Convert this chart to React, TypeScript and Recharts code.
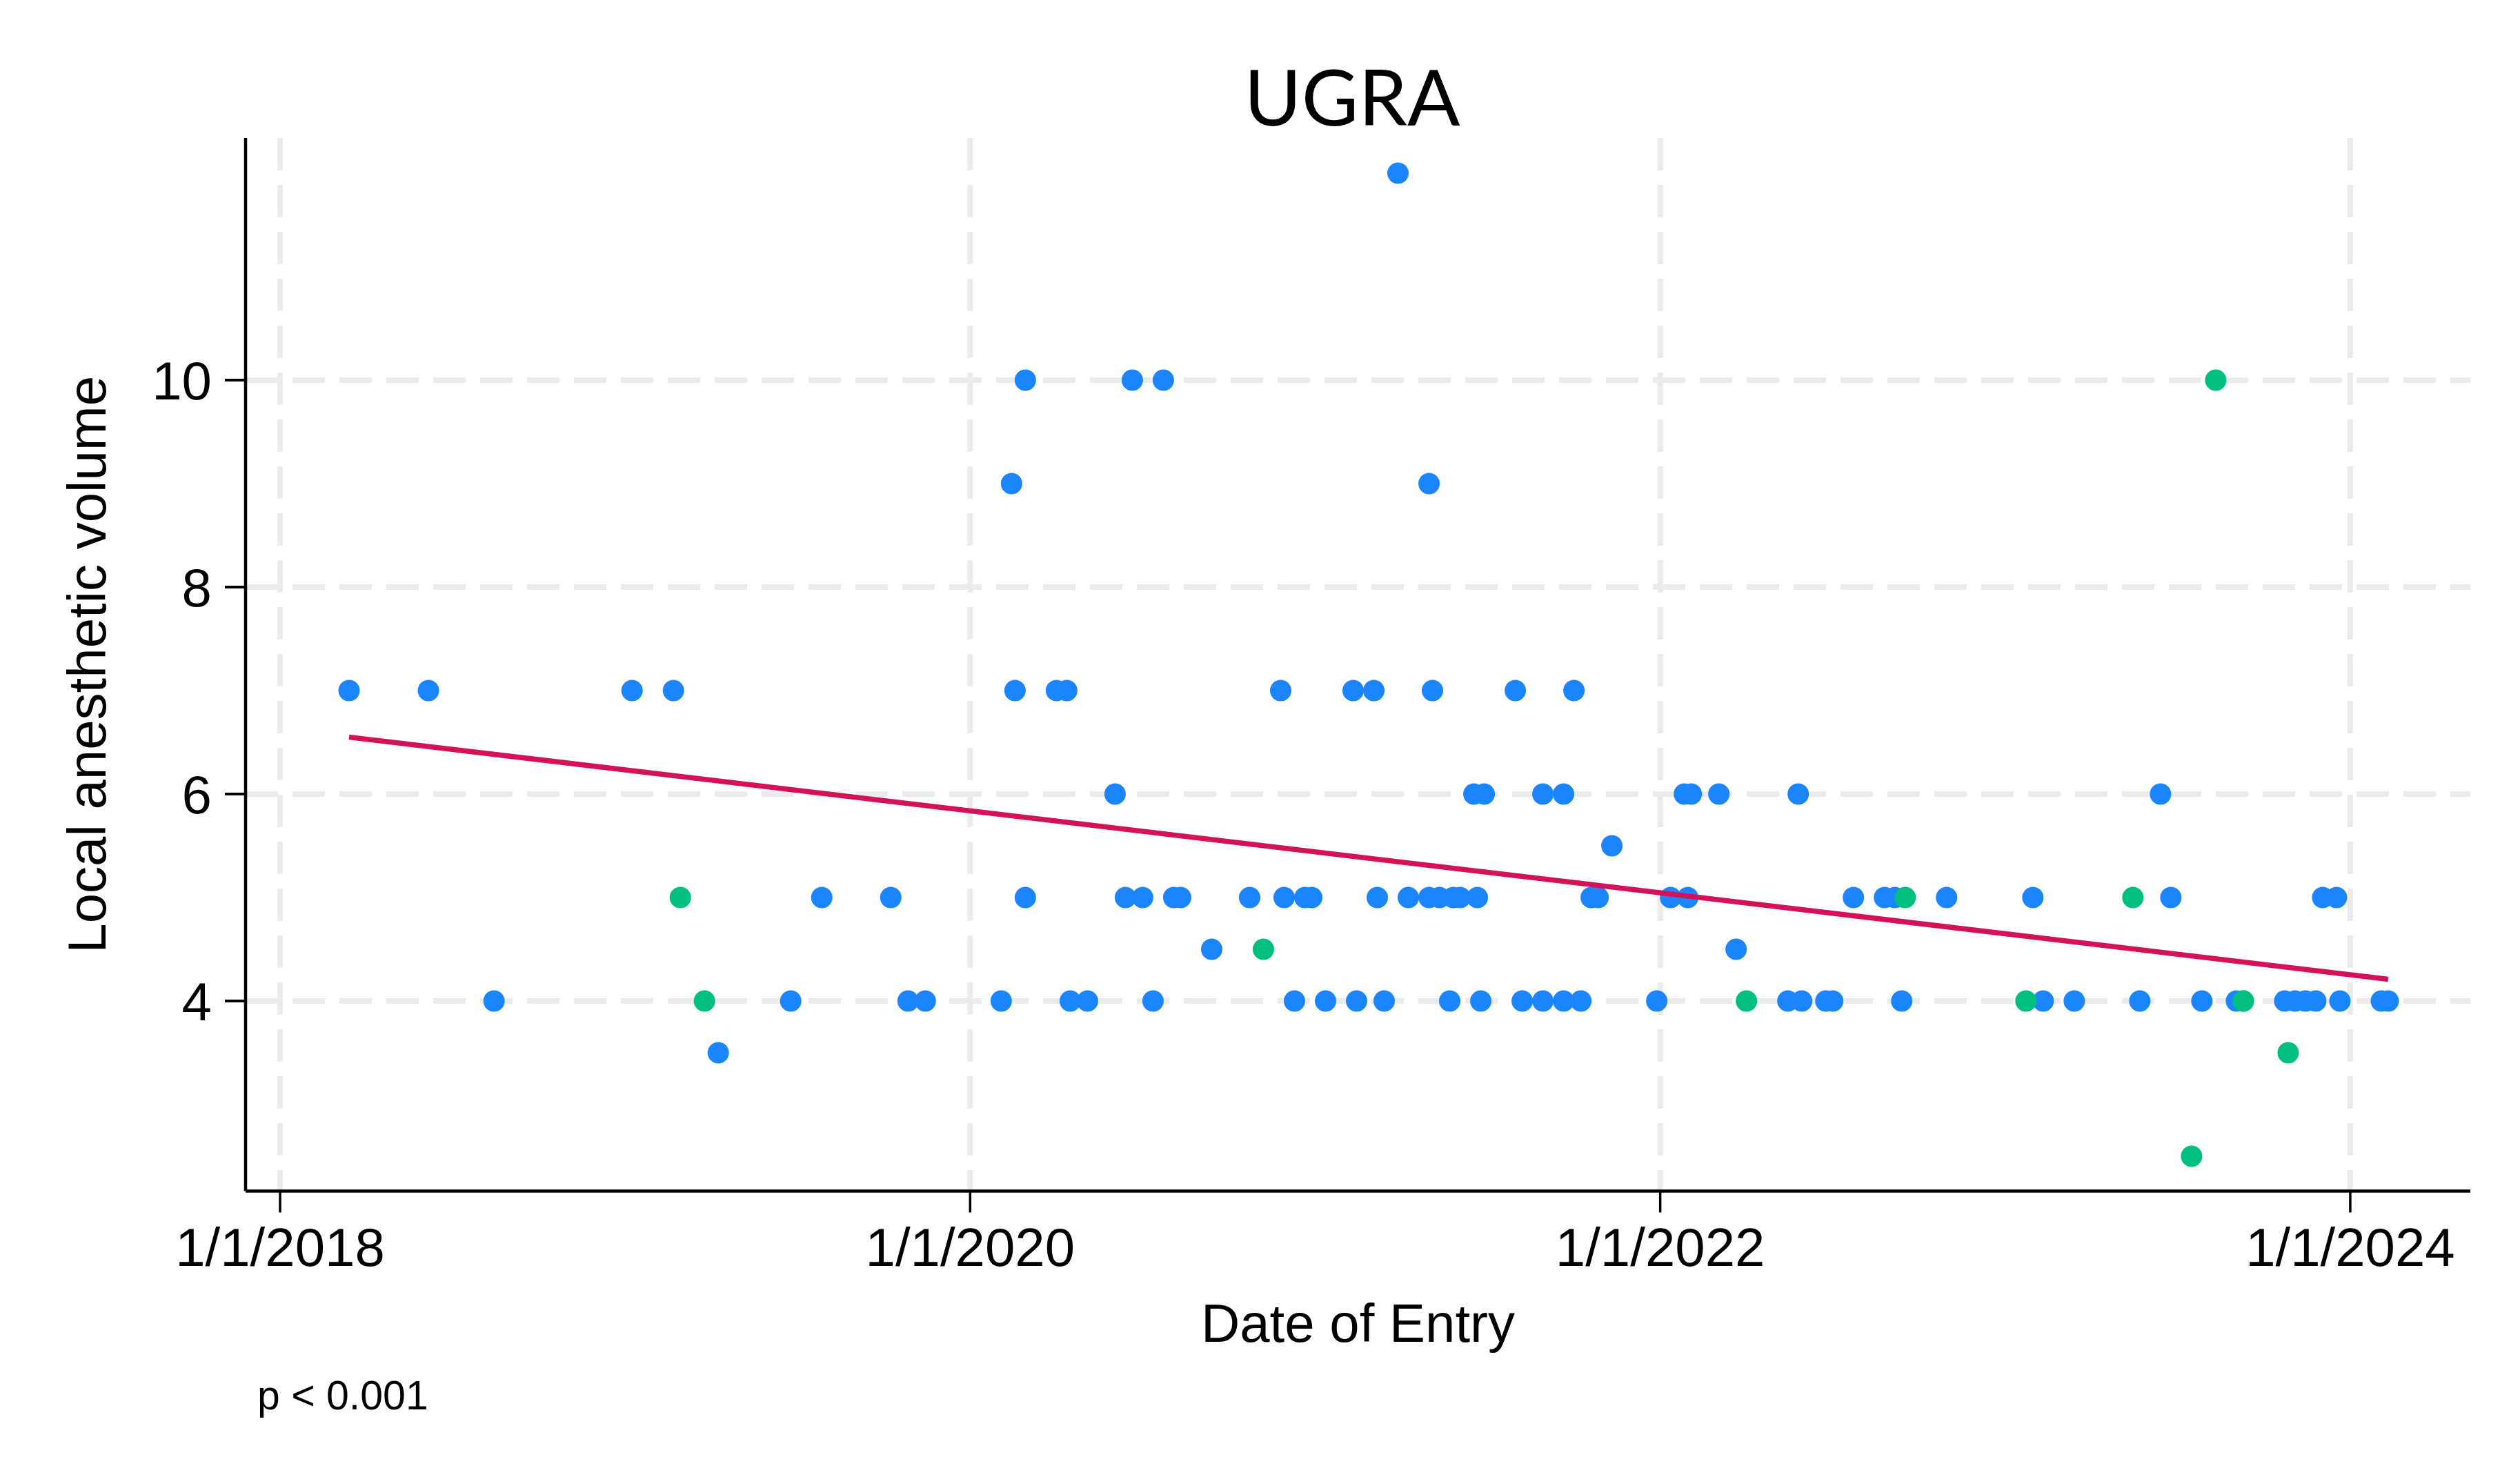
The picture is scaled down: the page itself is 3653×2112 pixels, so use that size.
import React from "react";
import { ScatterChart, Scatter, XAxis, YAxis, CartesianGrid, Label } from "recharts";

const WIDTH = 3653;
const HEIGHT = 2112;

const BLUE = "#1a85ff";
const GREEN = "#00bf7f";
const RED = "#d41159";
const GRID = "#ebebeb";
const FONT = "'Liberation Sans', Arial, sans-serif";

// tick values (x as decimal years)
const xTicks = [2018, 2020, 2022, 2024];
const yTicks = [4, 6, 8, 10];

// blue markers
const blueDates = [
  2018.2, 2018.43, 2018.62, 2019.02, 2019.14, 2019.27, 2019.48, 2019.57, 2019.77, 2019.82,
  2019.87, 2020.09, 2020.12, 2020.13, 2020.16, 2020.16, 2020.25, 2020.28, 2020.29, 2020.34,
  2020.42, 2020.45, 2020.47, 2020.5, 2020.53, 2020.56, 2020.59, 2020.61, 2020.7, 2020.81,
  2020.9, 2020.91, 2020.94, 2020.97, 2020.99, 2021.03, 2021.11, 2021.12, 2021.17, 2021.18,
  2021.2, 2021.24, 2021.27, 2021.33, 2021.33, 2021.34, 2021.36, 2021.39, 2021.4, 2021.42,
  2021.46, 2021.47, 2021.48, 2021.49, 2021.58, 2021.6, 2021.66, 2021.66, 2021.72, 2021.72,
  2021.75, 2021.77, 2021.8, 2021.82, 2021.86, 2021.99, 2022.03, 2022.07, 2022.08, 2022.09,
  2022.17, 2022.22, 2022.37, 2022.4, 2022.41, 2022.48, 2022.5, 2022.56, 2022.65, 2022.68,
  2022.7, 2022.83, 2023.08, 2023.11, 2023.2, 2023.39, 2023.45, 2023.48, 2023.57, 2023.67,
  2023.69, 2023.81, 2023.84, 2023.87, 2023.9, 2023.92, 2023.96, 2023.97, 2024.09, 2024.11,
];
const blueVolumes = [
  7, 7, 4, 7, 7, 3.5, 4, 5, 5, 4,
  4, 4, 9, 7, 10, 5, 7, 7, 4, 4,
  6, 5, 10, 5, 4, 10, 5, 5, 4.5, 5,
  7, 5, 4, 5, 5, 4, 7, 4, 7, 5,
  4, 12, 5, 9, 5, 7, 5, 4, 5, 5,
  6, 5, 4, 6, 7, 4, 6, 4, 6, 4,
  7, 4, 5, 5, 5.5, 4, 5, 6, 5, 6,
  6, 4.5, 4, 6, 4, 4, 4, 5, 5, 5,
  4, 5, 5, 4, 4, 4, 6, 5, 4, 4,
  4, 4, 4, 4, 4, 5, 5, 4, 4, 4,
];

// green markers
const greenDates = [2019.16, 2019.23, 2020.85, 2022.25, 2022.71, 2023.06, 2023.37, 2023.54, 2023.61, 2023.69, 2023.82];
const greenVolumes = [5, 4, 4.5, 4, 5, 4, 5, 2.5, 10, 4, 3.5];

// fitted line end points
const fitDates = [2018.2, 2024.11];
const fitVolumes = [6.55, 4.21];

const toPoints = (dates: number[], volumes: number[]) =>
  dates.map((date, i) => ({ date, volume: volumes[i] }));

const bluePoints = toPoints(blueDates, blueVolumes);
const greenPoints = toPoints(greenDates, greenVolumes);
const fitPoints = toPoints(fitDates, fitVolumes);

const dot = (color: string) => (props: any) =>
  <circle cx={props.cx} cy={props.cy} r={15.5} fill={color} />;

export default function App() {
  return (
    <div style={{ position: "absolute", left: 0, top: 0, width: WIDTH, height: HEIGHT, background: "#fff" }}>
      <ScatterChart
        width={WIDTH}
        height={HEIGHT}
        margin={{ top: 200, right: 72, bottom: 235.5, left: 156 }}
      >
        <CartesianGrid
          stroke={GRID}
          strokeWidth={8}
          strokeDasharray="47 21"
          horizontalValues={yTicks}
          verticalValues={xTicks}
        />
        <XAxis
          dataKey="date"
          type="number"
          domain={[2017.9, 2024.348]}
          allowDataOverflow
          ticks={xTicks}
          interval={0}
          tickFormatter={(v) => `1/1/${v}`}
          height={150}
          tickSize={31}
          tickMargin={22}
          axisLine={{ stroke: "#000", strokeWidth: 4.5 }}
          tickLine={{ stroke: "#000", strokeWidth: 3.5 }}
          tick={{ fontSize: 78, fill: "#000", fontFamily: FONT }}
        >
          <Label
            content={(p: any) => (
              <text
                x={p.viewBox.x + p.viewBox.width / 2}
                y={1945}
                textAnchor="middle"
                fontSize={78}
                fontFamily={FONT}
                fill="#000"
              >
                Date of Entry
              </text>
            )}
          />
        </XAxis>
        <YAxis
          dataKey="volume"
          type="number"
          domain={[2.163, 12.34]}
          allowDataOverflow
          ticks={yTicks}
          interval={0}
          width={200}
          tickSize={30}
          tickMargin={19}
          axisLine={{ stroke: "#000", strokeWidth: 4.5 }}
          tickLine={{ stroke: "#000", strokeWidth: 4 }}
          tick={{ fontSize: 78, fill: "#000", fontFamily: FONT }}
        >
          <Label
            content={(p: any) => {
              const cx = 153;
              const cy = p.viewBox.y + p.viewBox.height / 2;
              return (
                <text
                  x={cx}
                  y={cy}
                  transform={`rotate(-90, ${cx}, ${cy})`}
                  textAnchor="middle"
                  fontSize={78}
                  fontFamily={FONT}
                  fill="#000"
                >
                  Local anesthetic volume
                </text>
              );
            }}
          />
        </YAxis>
        <Scatter data={bluePoints} fill={BLUE} shape={dot(BLUE)} isAnimationActive={false} />
        <Scatter data={greenPoints} fill={GREEN} shape={dot(GREEN)} isAnimationActive={false} />
        <Scatter
          data={fitPoints}
          fill={RED}
          line={{ stroke: RED, strokeWidth: 7.5 }}
          shape={() => <g />}
          isAnimationActive={false}
        />
      </ScatterChart>
      <svg
        width={WIDTH}
        height={HEIGHT}
        style={{ position: "absolute", left: 0, top: 0, pointerEvents: "none" }}
      >
        <text x={1960} y={182} textAnchor="middle" fontSize={113} fontFamily="Lato, 'Open Sans', sans-serif" fill="#000">
          UGRA
        </text>
        <text x={373} y={2043} fontSize={59} fontFamily={FONT} fill="#000">
          p &lt; 0.001
        </text>
      </svg>
    </div>
  );
}
